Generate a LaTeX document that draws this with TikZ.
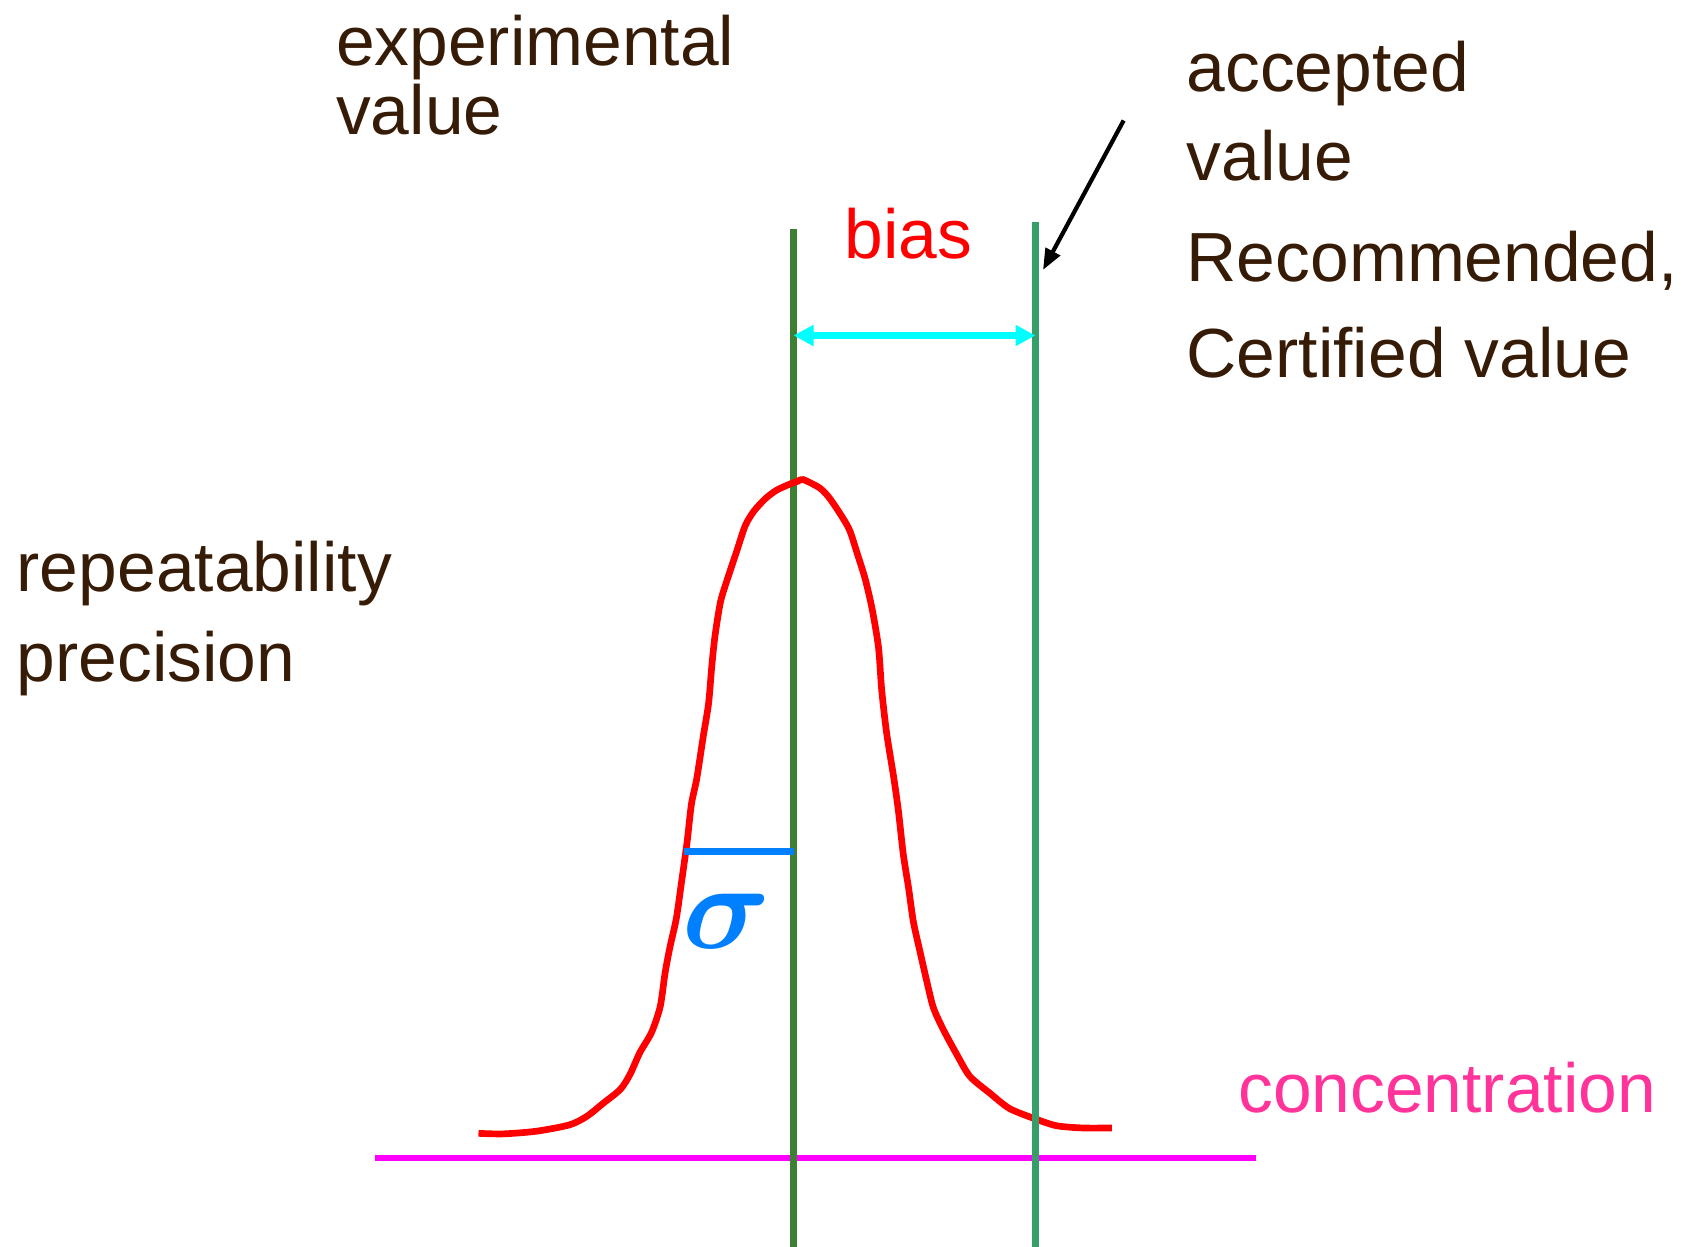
\documentclass[tikz,border=0pt]{standalone}
\usepackage{amsmath}
\usepackage{fontspec}
\setmainfont{Liberation Sans}
\usetikzlibrary{arrows.meta}
\definecolor{txtbrown}{RGB}{54,28,6}
\definecolor{expgreen}{RGB}{61,128,51}
\definecolor{accgreen}{RGB}{54,158,104}
\definecolor{sigblue}{RGB}{0,128,255}
\definecolor{concpink}{RGB}{255,51,153}
\definecolor{axmagenta}{RGB}{255,0,255}
\definecolor{biascyan}{RGB}{0,255,255}
\definecolor{curvered}{RGB}{255,0,0}
\begin{document}
\begin{tikzpicture}[x=0.010753cm,y=-0.010753cm,
    lbl/.style={anchor=base west,inner sep=0pt,text=txtbrown,
      font=\fontsize{19.8}{24}\selectfont},
    vline/.style={line width=1.9pt}]
  \useasboundingbox (0,0) rectangle (1568,1159);
  % axis
  \coordinate (axl) at (349,1077);
  \coordinate (axr) at (1168,1077);
  \draw[axmagenta,line width=1.8pt] (axl) -- (axr);
  % experimental value line
  \coordinate (exptop) at (738,213);
  \coordinate (expbot) at (738,1160);
  \draw[vline,expgreen] (exptop) -- (expbot);
  % distribution
  \draw[curvered,line width=1.9pt] plot[smooth,tension=0.45] coordinates {
    (445,1054) (468,1054.5) (499,1052) (530,1046) (546,1038) (561,1026)
    (577,1013) (586,999) (595,979) (606,960) (614,936) (618.5,905)
    (623,881) (629,854) (634,819) (639,783) (643,748) (648,724)
    (654,685) (659,654) (662,619) (665,591) (670,560) (676,540)
    (685,513) (693,489) (701,475.5) (711.5,464) (722,456) (735,450)
    (742,447.5) (747,446) (762.6,454) (772,464) (784,482) (790.5,494)
    (797,514) (804.5,538) (811,566) (817,602) (820,642) (824.6,682)
    (831,722) (835.5,754) (840,794) (845,826) (849.4,857) (855.6,885)
    (862,913) (868,937) (877,957) (890,981) (902,1001) (921,1017)
    (939,1031) (964,1041) (983,1047) (1007,1049) (1034,1049)};
  % accepted value line
  \coordinate (acctop) at (963,206);
  \coordinate (accbot) at (963,1160);
  \draw[vline,accgreen] (acctop) -- (accbot);
  % sigma
  \coordinate (sigl) at (636,792);
  \coordinate (sigr) at (738,792);
  \draw[sigblue,line width=2.1pt] (sigl) -- (sigr);
  \node[text=sigblue,inner sep=0pt,scale=1.4,font=\fontsize{24.88}{30}\selectfont]
    (sigma) at (676,857) {$\boldsymbol{\sigma}$};
  % bias
  \coordinate (biasl) at (738,312);
  \coordinate (biasr) at (963,312);
  \draw[biascyan,line width=1.8pt,{Triangle[length=0.2cm,width=0.2cm]}-{Triangle[length=0.2cm,width=0.2cm]}]
    (biasl) -- (biasr);
  \node[lbl,text=red] (bias) at (785,240) {bias};
  % pointer to accepted value
  \coordinate (ptrfrom) at (1045,112);
  \coordinate (ptrto) at (970,251);
  \draw[line width=1.2pt,-{Triangle[length=0.21cm,width=0.16cm]}] (ptrfrom) -- (ptrto);
  % labels
  \node[lbl] (exp1) at (312,61) {experimental};
  \node[lbl] (exp2) at (312,125) {value};
  \node[lbl] (acc1) at (1103,85) {accepted};
  \node[lbl] (acc2) at (1103,168) {value};
  \node[lbl] (acc3) at (1103,262) {Recommended,};
  \node[lbl] (acc4) at (1103,351) {Certified value};
  \node[lbl] (rep1) at (15,550) {repeatability};
  \node[lbl] (rep2) at (15,634) {precision};
  \node[lbl,text=concpink] (conc) at (1151,1035) {concentration};
\end{tikzpicture}
\end{document}
